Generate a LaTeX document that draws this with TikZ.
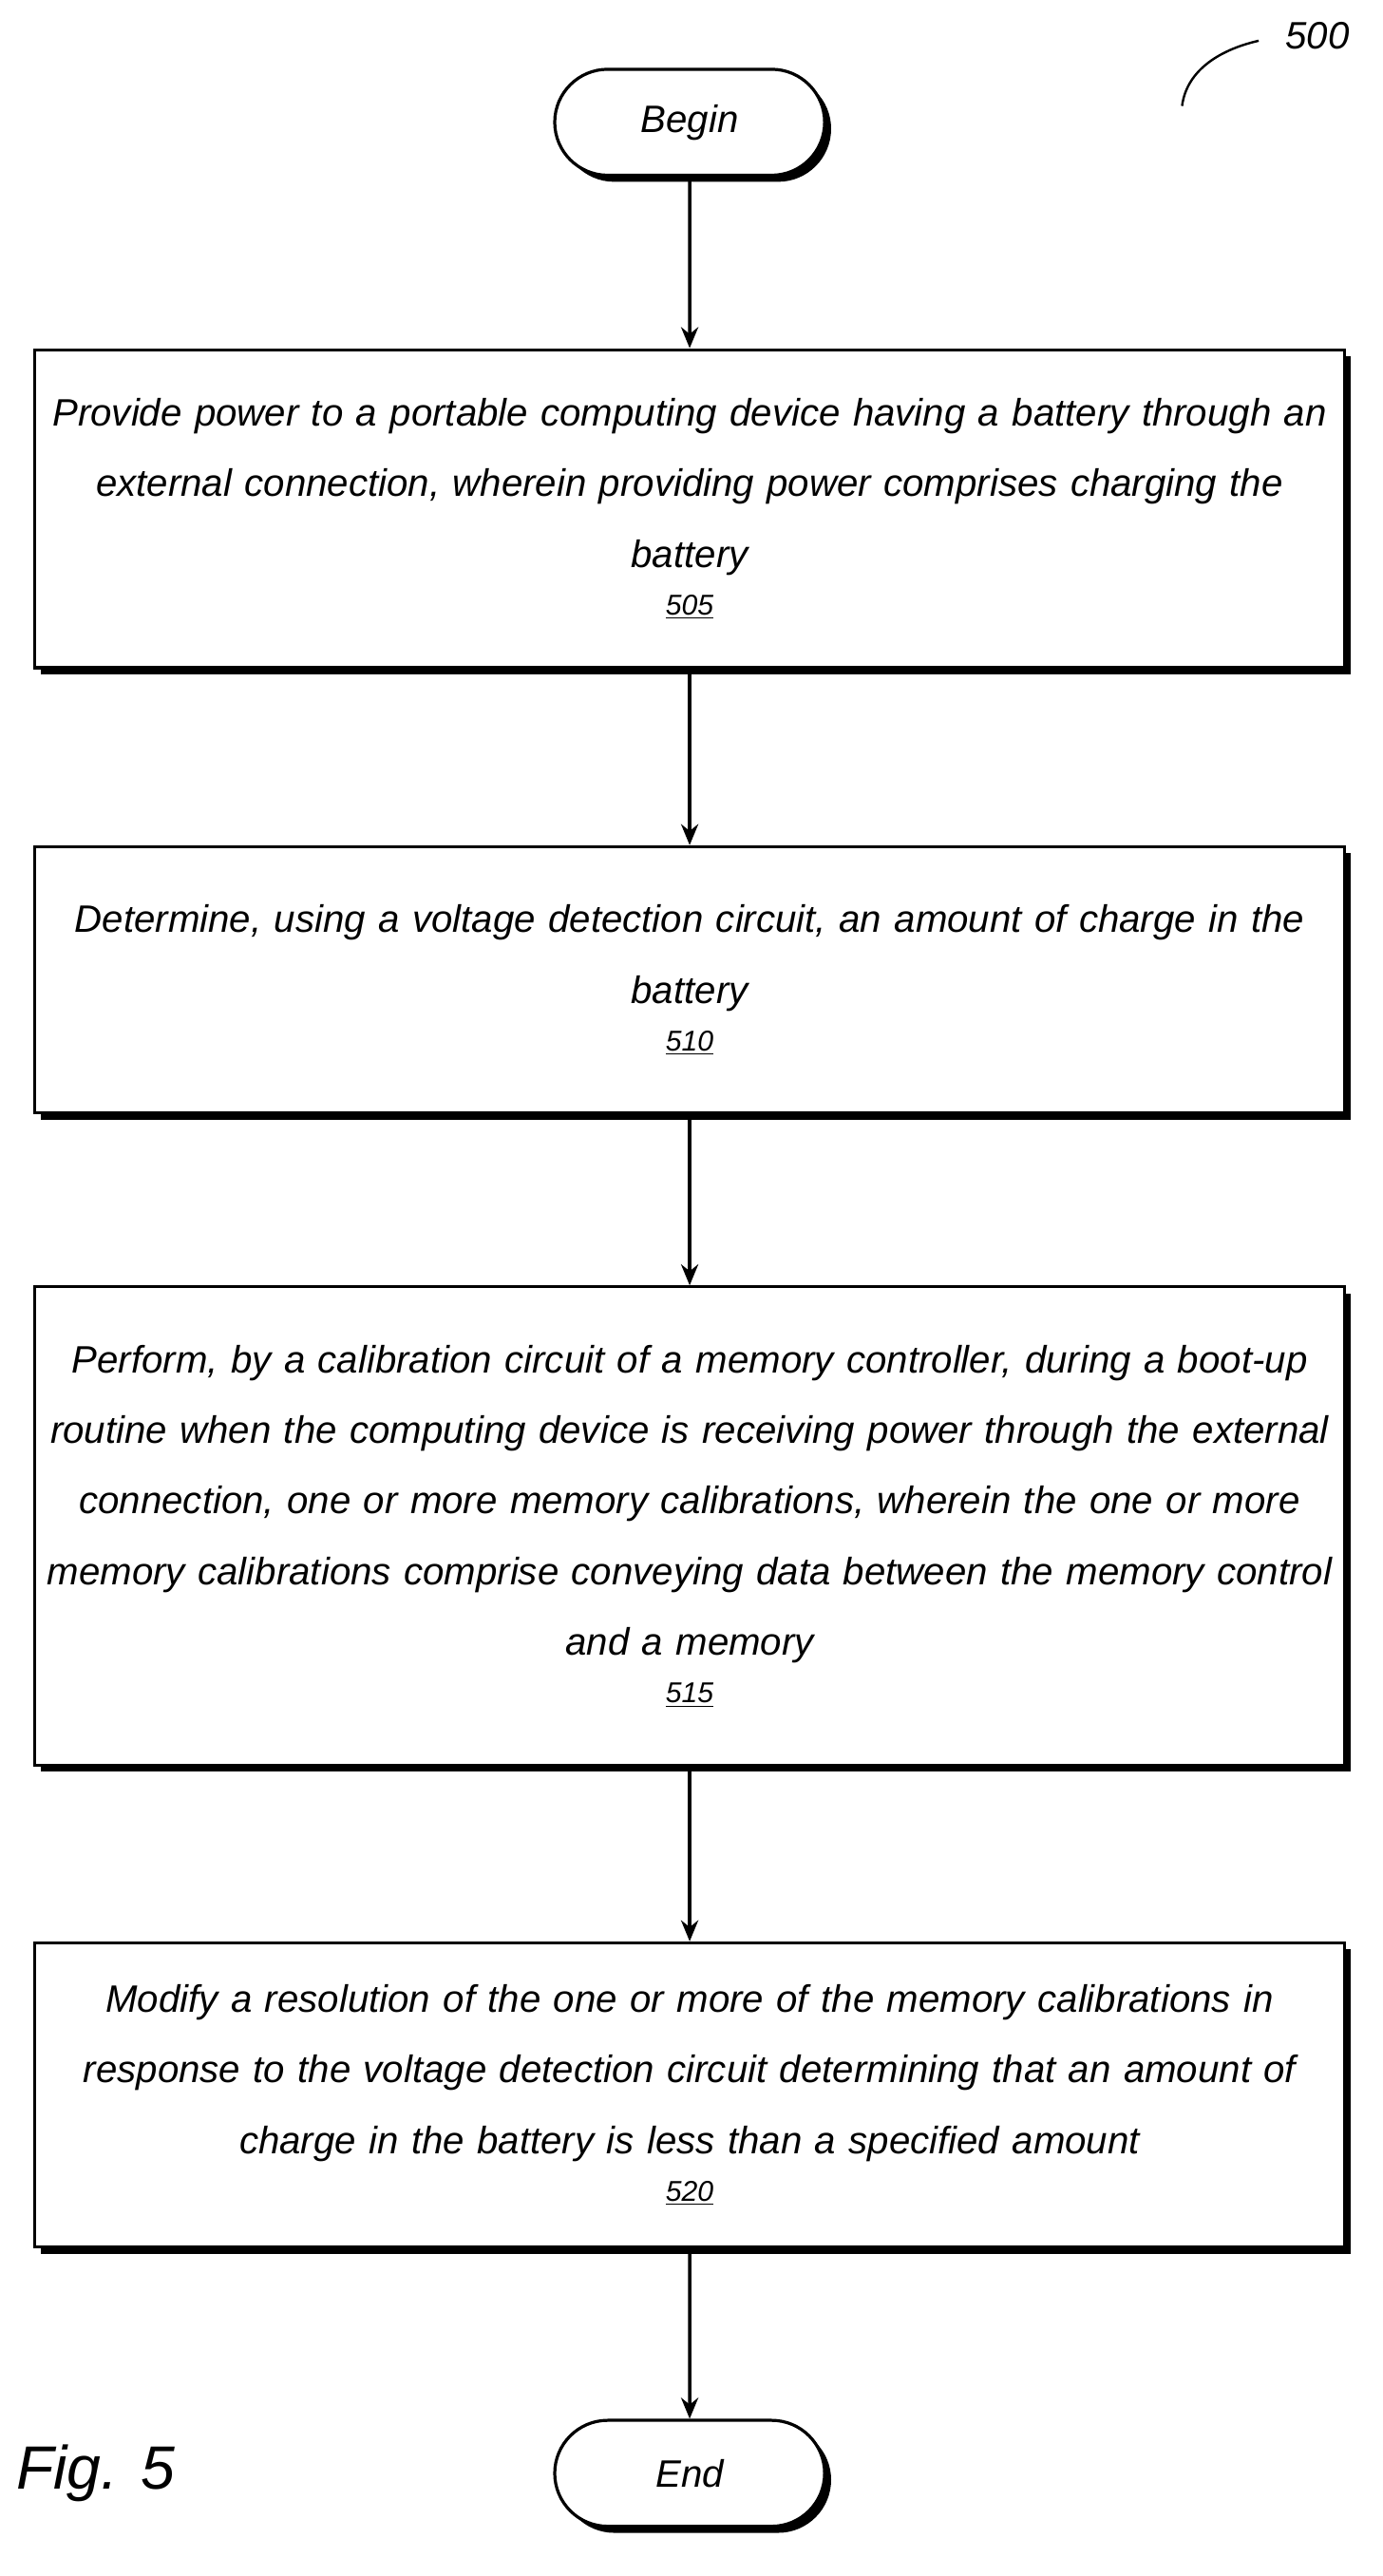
\documentclass[tikz,border=0pt]{standalone}
\usepackage{fontspec}
\setmainfont{Liberation Sans}
\usetikzlibrary{shapes.misc,shadows,arrows.meta}

\begin{document}
\begin{tikzpicture}[x=0.03cm,y=-0.03cm,-{Stealth[length=11pt,width=9pt]},line width=1.8pt,
  every node/.style={font=\fontsize{20}{37}\selectfont\itshape},
  boxshade/.style={drop shadow={shadow xshift=0.12cm,shadow yshift=-0.12cm,opacity=1,fill=black}},
  termbox/.style={draw,line width=1.6pt,rounded rectangle,fill=white,boxshade,minimum width=5.2cm,minimum height=1.95cm},
  stepbox/.style={draw,line width=1.6pt,fill=white,boxshade,text width=23.8cm,align=center,minimum width=24.1cm}]

\useasboundingbox (0,0) rectangle (848,1580);

\node[termbox] (begin) at (423,75) {Begin};
\node[stepbox,minimum height=5.85cm] (s505) at (423,312) {Provide power to a portable computing device having a battery through an\\ external connection, wherein providing power comprises charging the\\ battery\\[-12pt]{\fontsize{15}{17}\selectfont\underline{505}}};
\node[stepbox,minimum height=4.9cm] (s510) at (423,601) {Determine, using a voltage detection circuit, an amount of charge in the\\ battery\\[-12pt]{\fontsize{15}{17}\selectfont\underline{510}}};
\node[stepbox,minimum height=8.8cm] (s515) at (423,936) {Perform, by a calibration circuit of a memory controller, during a boot-up\\ routine when the computing device is receiving power through the external\\ connection, one or more memory calibrations, wherein the one or more\\ memory calibrations comprise conveying data between the memory control\\ and a memory\\[-12pt]{\fontsize{15}{17}\selectfont\underline{515}}};
\node[stepbox,minimum height=5.6cm] (s520) at (423,1285) {Modify a resolution of the one or more of the memory calibrations in\\ response to the voltage detection circuit determining that an amount of\\ charge in the battery is less than a specified amount\\[-12pt]{\fontsize{15}{17}\selectfont\underline{520}}};
\node[termbox] (end) at (423,1517) {End};

\draw (begin) -- (s505);
\draw (s505) -- (s510);
\draw (s510) -- (s515);
\draw (s515) -- (s520);
\draw (s520) -- (end);

% figure labels
\node[font=\fontsize{20}{22}\selectfont\itshape] (fignum) at (808,22) {500};
\draw[-,line width=1.2pt] (725,65) .. controls (728,42) and (750,30) .. (772,25);
\node[font=\fontsize{32}{36}\selectfont\itshape,anchor=west] (fig) at (5,1517) {Fig. 5};
\end{tikzpicture}
\end{document}
